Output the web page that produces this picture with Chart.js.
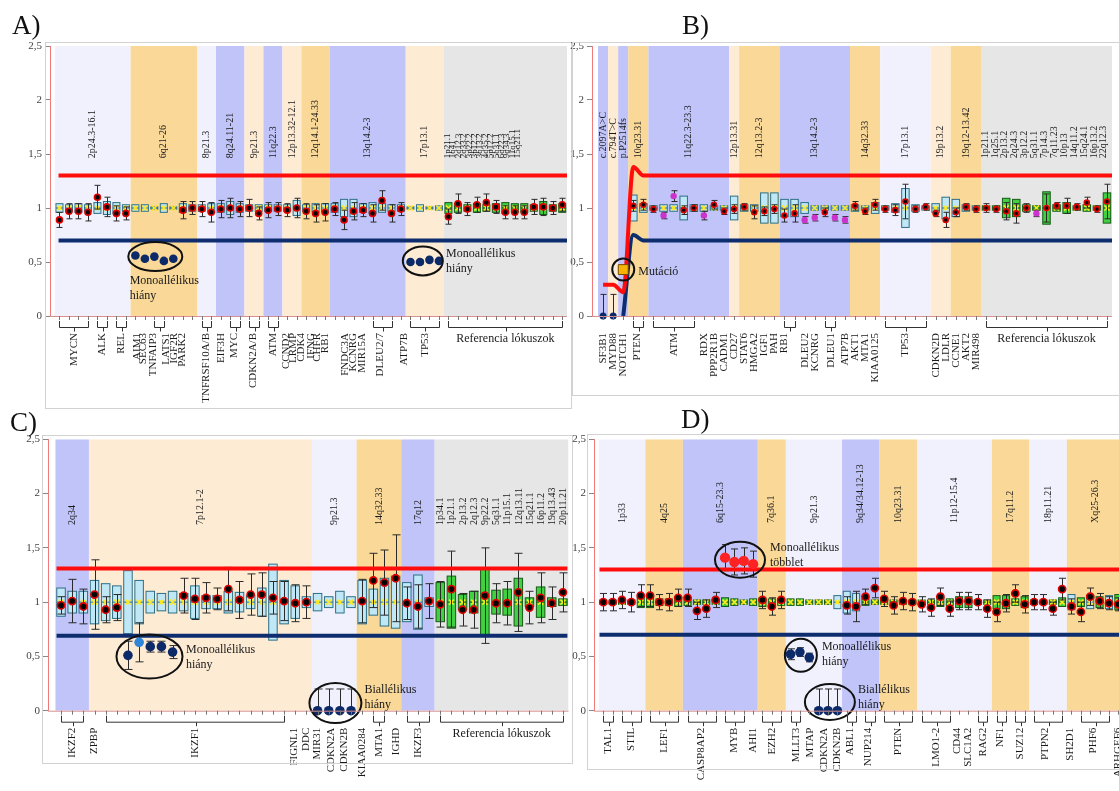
<!DOCTYPE html>
<html lang="hu">
<head>
<meta charset="utf-8">
<title>MLPA</title>
<script src="https://cdn.jsdelivr.net/npm/chart.js@4.4.1/dist/chart.umd.min.js"></script>
<style>
  html, body { margin: 0; padding: 0; background: #fff; }
  body { width: 1119px; height: 791px; position: relative; overflow: hidden; }
  canvas { position: absolute; }
</style>
</head>
<body>
<canvas id="chartA"></canvas>
<canvas id="chartB"></canvas>
<canvas id="chartC"></canvas>
<canvas id="chartD"></canvas>
<script>
// ---- A) panel ----
const aVal = [0.89, 0.97, 0.97, 0.96, 1.10, 1.01, 0.95, 0.95,
  0.56, 0.53, 0.55, 0.51, 0.53, 0.98, 1.00,
  0.99, 0.96, 0.99, 1.00, 0.99, 1.00, 0.95, 0.98, 0.99, 0.98, 1.00, 0.97, 0.95, 0.96,
  0.99, 0.89, 0.97, 0.98, 0.95, 1.07, 0.95, 0.99,
  0.50, 0.50, 0.52, 0.51,
  0.92, 1.04, 0.99, 1.03, 1.05, 1.01, 0.96, 0.96, 0.96, 1.01, 1.01, 1.00, 1.03];
const aKind = 'nnnnnnnn' + 'ddddd' + 'nnnnnnnnnnnnnnnnnnnnnnnn' + 'dddd' + 'nnnnnnnnnnnnn';
const aErr = [0.07, 0.07, 0.07, 0.08, 0.11, 0.09, 0.07, 0.06,
  0.02, 0.02, 0.02, 0.02, 0.02, 0.08, 0.06,
  0.07, 0.09, 0.08, 0.09, 0.07, 0.08, 0.06, 0.07, 0.06, 0.06, 0.09, 0.07, 0.08, 0.08,
  0.06, 0.09, 0.08, 0.06, 0.08, 0.09, 0.08, 0.06,
  0.02, 0.02, 0.02, 0.02,
  0.07, 0.09, 0.06, 0.07, 0.08, 0.06, 0.06, 0.06, 0.06, 0.07, 0.08, 0.06, 0.06];
const aBox = [0.04, 0.03, 0.04, 0.03, 0.05, 0.06, 0.05, 0.03,
  0.03, 0.03, 0.01, 0.04, 0.01, 0.04, 0.03,
  0.03, 0.04, 0.04, 0.06, 0.04, 0.03, 0.03, 0.03, 0.03, 0.03, 0.07, 0.03, 0.04, 0.04,
  0.04, 0.08, 0.08, 0.04, 0.05, 0.04, 0.03, 0.03,
  0.01, 0.03, 0.01, 0.02,
  0.05, 0.04, 0.03, 0.04, 0.03, 0.04, 0.05, 0.04, 0.04, 0.03, 0.06, 0.03, 0.04];
const aBoxKind = 'bbbbbbbbbbbbbbbbbbbbbbbbbbbbbbbbbbbbbbbbb' + 'ggggggggggggg';
const aBandFrom = [0, 8, 15, 17, 20, 22, 24, 26, 29, 37, 41];
const aBandTo = [7, 14, 16, 19, 21, 23, 25, 28, 36, 40, 53];
const aBandKind = ['L', 'O', 'L', 'B', 'P', 'B', 'P', 'O', 'B', 'P', 'G'];
const aBandName = ['2p24.3-16.1', '6q21-26', '8p21.3', '8q24.11-21', '9p21.3', '11q22.3',
  '12p13.32-12.1', '12q14.1-24.33', '13q14.2-3', '17p13.1', ''];
const aRefBands = ['1p21.1', '1q41', '2q12.3', '2q33.2', '3p22.2', '3p12.2', '3q13.2', '4q35.2',
  '5p12.2', '5q31.1', '6q22.3', '9q34.3', '11q15.1', '15q21.1'];
const aGenes = ['MYCN', 'ALK', 'REL', 'AIM1', 'SEC63', 'TNFAIP3', 'LATS1', 'IGF2R', 'PARK2',
  'TNFRSF10A/B', 'EIF3H', 'MYC', 'CDKN2A/B', 'ATM', 'CCND2', 'LRMP', 'CDK4', 'IFNG', 'CHFR', 'RB1',
  'FNDC3A', 'KCNRG', 'MIR15A', 'DLEU2/7', 'ATP7B', 'TP53'];
const aGeneAt = [1.5, 4.5, 6.5, 8.2, 8.8, 9.9, 11.2, 12.1, 12.9, 15.5, 17, 18.4, 20.4, 22.5,
  23.9, 24.6, 25.5, 26.5, 27.2, 28, 30.1, 31, 31.9, 33.8, 36.3, 38.5];
const aBrackets = [[0, 3], [4, 5], [6, 7], [10, 11], [15, 16], [18, 19], [20, 21], [22, 23], [33, 35], [37, 40], [41, 53]];
const aHiX = [-0.1, 53.5], aHi = [1.3, 1.3];
const aLoX = [-0.1, 53.5], aLo = [0.7, 0.7];

// ---- B) panel ----
const bVal = [0, 0, 0.43, 1.02, 1.03,
  0.99, 0.93, 1.11, 0.98, 1.00, 0.93, 1.03, 0.97, 0.99,
  1.01, 0.96, 0.97, 0.99,
  0.93, 0.95, 0.89, 0.91, 0.96, 0.91, 0.89,
  1.02, 0.97, 1.03, 0.99, 0.98, 1.06, 0.99, 1.01,
  0.95, 0.89, 0.96, 1.01, 0.99,
  1.00, 0.99, 0.97, 0.95, 1.00, 0.95, 1.00, 1.02, 1.02, 1.01, 1.05, 0.99, 1.06];
const bKind = 'ddu' + 'nn' + 'nmmnnmnn' + 'n' + 'nnnn' + 'nnmmnmm' + 'nnn' + 'nnnnn' + 'nn' + 'nnn' + 'nnnnnmnnnnnnn';
const bErr = [0.2, 0.2, 0, 0.05, 0.05,
  0.03, 0.03, 0.05, 0.04, 0.03, 0.04, 0.04, 0.03, 0.04,
  0.03, 0.06, 0.04, 0.04,
  0.06, 0.08, 0.03, 0.03, 0.04, 0.03, 0.03,
  0.04, 0.03, 0.05, 0.03, 0.05, 0.16, 0.03, 0.03,
  0.03, 0.07, 0.04, 0.03, 0.03,
  0.04, 0.03, 0.08, 0.09, 0.04, 0.03, 0.13, 0.03, 0.07, 0.03, 0.05, 0.03, 0.16];
const bBox = [0, 0, 0, 0.12, 0.04,
  0.02, 0.03, 0.03, 0.11, 0.03, 0.03, 0.02, 0.02, 0.11,
  0.03, 0.03, 0.14, 0.14,
  0.08, 0.08, 0.05, 0.02, 0.02, 0.02, 0.02,
  0.03, 0.02, 0.05, 0.02, 0.04, 0.18, 0.03, 0.02,
  0.04, 0.10, 0.08, 0.03, 0.02,
  0.02, 0.02, 0.09, 0.08, 0.03, 0.02, 0.15, 0.03, 0.05, 0.02, 0.03, 0.02, 0.14];
const bBoxKind = 'bbbbbbbbbbbbbbbbbbbbbbbbbbbbbbbbbbbbbb' + 'ggggggggggggg';
const bBandFrom = [0, 1, 2, 3, 5, 13, 14, 18, 25, 28, 33, 35, 38];
const bBandTo = [0, 1, 2, 4, 12, 13, 17, 24, 27, 32, 34, 37, 50];
const bBandKind = ['B', 'P', 'B', 'O', 'B', 'P', 'O', 'B', 'O', 'L', 'P', 'O', 'G'];
const bBandName = ['c.2097A>C', 'c.794T>C', 'p.P2514fs', '10q23.31', '11q22.3-23.3', '12p13.31',
  '12q13.2-3', '13q14.2-3', '14q32.33', '17p13.1', '19p13.2', '19q12-13.42', ''];
const bRefBands = ['1p21.1', '1q25.1', '2p13.2', '2q24.3', '3p12.2', '5q31.1', '7p14.3', '7q11.23',
  '10p13', '14q11.2', '15q24.1', '16p13.2', '22q12.3'];
const bGenes = ['SF3B1', 'MYD88', 'NOTCH1', 'PTEN', 'ATM', 'RDX', 'PPP2R1B', 'CADM1', 'CD27', 'STAT6',
  'HMGA2', 'IGF1', 'PAH', 'RB1', 'DLEU2', 'KCNRG', 'DLEU1', 'ATP7B', 'AKT1', 'MTA1', 'KIAA0125',
  'TP53', 'CDKN2D', 'LDLR', 'CCNE1', 'AKT2', 'MIR498'];
const bGeneAt = [0, 1, 2, 3.4, 7, 10, 11, 12, 13, 14, 15, 16, 17, 18, 20, 21, 22.6, 24, 25, 26, 27,
  30, 33, 34, 35, 36, 37];
const bBrackets = [[3, 4], [5, 9], [18, 19], [22, 23], [28, 32], [38, 50]];
const bHiX = [0, 1, 2, 3, 4, 50.6], bHi = [0.29, 0.29, 0.22, 1.38, 1.30, 1.30];
const bLoX = [2, 3, 4, 50.6], bLo = [0, 0.75, 0.70, 0.70];

// ---- C) panel ----
const cVal = [0.97, 1.01, 0.96,
  1.07, 0.93, 0.95, 0.51, 0.63, 0.59, 0.59, 0.54, 1.06, 1.03, 1.04, 1.03, 1.12, 1.02, 1.07, 1.07, 1.04, 1.01, 0.99, 1.00,
  0, 0, 0, 0,
  1.01, 1.20, 1.18, 1.22,
  0.99, 0.96, 1.01,
  0.98, 1.12, 0.93, 0.93, 1.06, 0.99, 0.99, 1.09, 0.95, 1.04, 0.99, 1.09];
const cKind = 'nnn' + 'nnndlddd' + 'nnnnnnnnnnnn' + 'dddd' + 'nnnn' + 'nnn' + 'nnnnnnnnnnnn';
const cErr = [0.08, 0.2, 0.16,
  0.32, 0.12, 0.12, 0.13, 0.18, 0.05, 0.05, 0.06, 0.16, 0.19, 0.14, 0.1, 0.2, 0.17, 0.19, 0.2, 0.15, 0.18, 0.17, 0.15,
  0.2, 0.2, 0.2, 0.2,
  0.2, 0.25, 0.3, 0.4,
  0.15, 0.2, 0.16,
  0.21, 0.35, 0.15, 0.17, 0.44, 0.18, 0.2, 0.36, 0.15, 0.23, 0.15, 0.18];
const cBox = [0.13, 0.1, 0.1,
  0.2, 0.17, 0.15, 0.29, 0.2, 0.1, 0.08, 0.1, 0.08, 0.15, 0.06, 0.06, 0.1, 0.09, 0.06, 0.13, 0.35, 0.2, 0.15, 0.05,
  0.08, 0.05, 0.1, 0.05,
  0.2, 0.12, 0.22, 0.24,
  0.18, 0.25, 0.04,
  0.18, 0.24, 0.07, 0.1, 0.31, 0.11, 0.12, 0.22, 0.04, 0.14, 0.04, 0.03];
const cBoxKind = 'bbbbbbbbbbbbbbbbbbbbbbbbbbbbbbbbbb' + 'gggggggggggg';
const cBandFrom = [0, 3, 23, 27, 31, 34];
const cBandTo = [2, 22, 26, 30, 33, 45];
const cBandKind = ['B', 'P', 'L', 'O', 'B', 'G'];
const cBandName = ['2q34', '7p12.1-2', '9p21.3', '14q32.33', '17q12', ''];
const cRefBands = ['1p34.1', '1p21.1', '2p13.2', '2q12.3', '9p22.2', '5q31.1', '11p15.1', '12q13.11',
  '15q21.1', '16p11.2', '19q13.43', '20p11.21'];
const cGenes = ['IKZF2', 'ZPBP', 'IKZF1', 'FIGNL1', 'DDC', 'MIR31', 'CDKN2A', 'CDKN2B', 'KIAA0284',
  'MTA1', 'IGHD', 'IKZF3'];
const cGeneAt = [1, 3, 12, 20.9, 22, 23, 24.2, 25.4, 27, 28.5, 30, 32];
const cBrackets = [[0, 2], [4, 20], [28, 29], [31, 33], [34, 45]];
const cHiX = [-0.4, 45.4], cHi = [1.31, 1.31];
const cLoX = [-0.4, 45.4], cLo = [0.69, 0.69];

// ---- D) panel ----
const dVal = [1.00, 1.00, 1.02, 1.00, 1.06,
  1.06, 1.00, 1.00, 1.04,
  1.04, 0.92, 0.94, 1.02, 1.41, 1.37, 1.38, 1.35,
  1.02, 0.96, 1.02,
  0.52, 0.54, 0.49, 0, 0, 0,
  0.97, 0.96, 1.05, 1.13,
  1.03, 0.97, 1.01, 1.00,
  0.98, 0.95, 1.05, 0.94, 1.01, 1.01, 1.00, 0.94,
  0.91, 0.99, 1.08, 0.98,
  1.00, 1.00, 0.94, 1.12,
  0.96, 0.91, 1.05, 1.01, 0.99, 0.98];
const dKind = 'nnnnn' + 'nnnn' + 'nnnngggg' + 'nnn' + 'dddddd' + 'nnnn' + 'nnnn' + 'nnnnnnnn' + 'nnnn' + 'nnnn' + 'nnnnnn';
const dErr = [0.08, 0.08, 0.08, 0.09, 0.1,
  0.1, 0.07, 0.08, 0.08,
  0.08, 0.08, 0.08, 0.07, 0.12, 0.12, 0.12, 0.12,
  0.08, 0.08, 0.08,
  0.05, 0.04, 0.04, 0.2, 0.2, 0.2,
  0.08, 0.14, 0.07, 0.09,
  0.07, 0.08, 0.08, 0.08,
  0.07, 0.08, 0.08, 0.07, 0.08, 0.08, 0.07, 0.08,
  0.09, 0.08, 0.08, 0.08,
  0.07, 0.07, 0.06, 0.1,
  0.07, 0.09, 0.08, 0.07, 0.06, 0.06];
const dBox = [0.02, 0.02, 0.02, 0.02, 0.05,
  0.05, 0.03, 0.03, 0.04,
  0.03, 0.02, 0.02, 0.02, 0.04, 0.03, 0.02, 0.03,
  0.04, 0.03, 0.03,
  0.03, 0.03, 0.02, 0.02, 0.02, 0.06,
  0.1, 0.08, 0.03, 0.02,
  0.02, 0.02, 0.02, 0.02,
  0.02, 0.02, 0.04, 0.03, 0.05, 0.05, 0.02, 0.02,
  0.06, 0.06, 0.03, 0.05,
  0.02, 0.02, 0.02, 0.04,
  0.07, 0.04, 0.06, 0.05, 0.06, 0.07];
const dBoxKind = 'ggggg' + 'gggg' + 'gggggggg' + 'ggg' + 'gggggb' + 'bbgg' + 'gggg' + 'gggggggg' + 'gggg' + 'gggg' + 'bgbgbg';
const dBandFrom = [0, 5, 9, 17, 20, 26, 30, 34, 42, 46, 50];
const dBandTo = [4, 8, 16, 19, 25, 29, 33, 41, 45, 49, 55];
const dBandKind = ['L', 'O', 'B', 'O', 'L', 'B', 'O', 'L', 'O', 'L', 'O'];
const dBandName = ['1p33', '4q25', '6q15-23.3', '7q36.1', '9p21.3', '9q34/34.12-13', '10q23.31',
  '11p12-15.4', '17q11.2', '18p11.21', 'Xq25-26.3'];
const dGenes = ['TAL1', 'STIL', 'LEF1', 'CASP8AP2', 'MYB', 'AHI1', 'EZH2', 'MLLT3', 'MTAP', 'CDKN2A',
  'CDKN2B', 'ABL1', 'NUP214', 'PTEN', 'LMO1-2', 'CD44', 'SLC1A2', 'RAG2', 'NF1', 'SUZ12', 'PTPN2',
  'SH2D1', 'PHF6', 'ARHGEF6'];
const dGeneAt = [0.5, 3, 6.5, 10.5, 14, 16, 18, 20.6, 22.1, 23.6, 25, 26.4, 28.3, 31.5, 35.5, 37.8,
  39, 40.6, 42.4, 44.5, 47.2, 49.9, 52.3, 55];
const dBrackets = [[0, 1], [2, 4], [5, 8], [9, 12], [13, 15], [17, 19], [20, 21], [26, 27], [28, 29],
  [30, 33], [34, 37], [40, 41], [42, 43], [44, 45], [46, 49], [51, 54]];
const dHiX = [-0.4, 55.5], dHi = [1.3, 1.3];
const dLoX = [-0.4, 55.5], dLo = [0.7, 0.7];

// ---- styles ----
const SERIF = '"Liberation Serif", "Times New Roman", serif';
const BAND_FILL = { L: '#f1f1fd', B: '#c0c4f8', O: '#f9d898', P: '#fdebd4', G: '#e6e6e6' };
const BOX_FILL = { b: '#bfe7f5', g: '#41d041' };
const BOX_LINE = { b: '#2d6f86', g: '#165a16' };
const POINT_FILL = { n: '#050505', d: '#0c2a68', l: '#2f86d8', g: '#ff2222', m: '#cc33cc', u: '#f6b400' };
const POINT_LINE = { n: '#e00000', d: '#0c2a68', l: '#2f86d8', g: '#ff2222', m: '#cc33cc', u: '#7a4a00' };

function vtext(ctx, s, x, y) {
  ctx.save();
  ctx.translate(x, y);
  ctx.rotate(-Math.PI / 2);
  ctx.fillText(s, 0, 0);
  ctx.restore();
}

function pairs(xs, ys) {
  return ys.map((y, i) => ({ x: xs[i], y: y }));
}

function panelPlugin(p) {
  return {
    id: 'panel',
    beforeDatasetsDraw(chart) {
      const { ctx, chartArea: a } = chart;
      const px = v => chart.scales.x.getPixelForValue(v);
      const py = v => chart.scales.y.getPixelForValue(v);
      ctx.save();
      ctx.beginPath();
      ctx.rect(a.left, a.top, a.right - a.left, a.bottom - a.top);
      ctx.clip();

      // kromoszóma sávok
      p.bandFrom.forEach((f, k) => {
        const x0 = px(f - 0.5), x1 = px(p.bandTo[k] + 0.5);
        ctx.fillStyle = BAND_FILL[p.bandKind[k]];
        ctx.fillRect(x0, a.top, x1 - x0, a.bottom - a.top);
        ctx.fillStyle = '#1a1a1a';
        ctx.textAlign = 'left';
        ctx.textBaseline = 'middle';
        if (p.bandName[k]) {
          ctx.font = p.bandFont + 'px ' + SERIF;
          vtext(ctx, p.bandName[k], (x0 + x1) / 2, py(p.labelBase));
        } else {
          ctx.font = p.refFont + 'px ' + SERIF;
          p.refBands.forEach((s, j) => vtext(ctx, s, x0 + p.refOffset + j * p.refStep, py(p.labelBase)));
        }
      });

      // referencia dobozok
      const w = p.boxW;
      p.box.forEach((h, i) => {
        if (!h) return;
        const x = px(i), y0 = py(1 + h), y1 = py(1 - h), ym = py(1);
        const k = p.boxKind[i];
        ctx.fillStyle = BOX_FILL[k];
        ctx.fillRect(x - w / 2, y0, w, y1 - y0);
        ctx.strokeStyle = BOX_LINE[k];
        ctx.lineWidth = 1;
        ctx.strokeRect(x - w / 2, y0, w, y1 - y0);
        ctx.beginPath();
        ctx.moveTo(x - w / 2, ym);
        ctx.lineTo(x + w / 2, ym);
        ctx.stroke();
        ctx.strokeStyle = '#ffe81a';
        ctx.lineWidth = 1.5;
        ctx.beginPath();
        ctx.moveTo(x - 2.5, ym - 2.5); ctx.lineTo(x + 2.5, ym + 2.5);
        ctx.moveTo(x + 2.5, ym - 2.5); ctx.lineTo(x - 2.5, ym + 2.5);
        ctx.stroke();
      });

      // hibasávok
      ctx.strokeStyle = '#2a2a2a';
      ctx.lineWidth = 1;
      const c = p.cap / 2;
      p.vals.forEach((v, i) => {
        const e = p.err[i];
        if (v === null || !e) return;
        const x = Math.round(px(i)) + 0.5, y0 = py(v - e), y1 = py(v + e);
        ctx.beginPath();
        ctx.moveTo(x, y0); ctx.lineTo(x, y1);
        ctx.moveTo(x - c, y0); ctx.lineTo(x + c, y0);
        ctx.moveTo(x - c, y1); ctx.lineTo(x + c, y1);
        ctx.stroke();
      });
      ctx.restore();
    },
    afterDatasetsDraw(chart) {
      const ctx = chart.ctx;
      const px = v => chart.scales.x.getPixelForValue(v);
      const py = v => chart.scales.y.getPixelForValue(v);
      ctx.save();
      ctx.strokeStyle = '#111';
      ctx.lineWidth = 2;
      ctx.fillStyle = '#1a1a1a';
      ctx.font = '12px ' + SERIF;
      ctx.textAlign = 'left';
      ctx.textBaseline = 'middle';
      p.notes.forEach(n => {
        ctx.beginPath();
        ctx.ellipse(px(n.cx), py(n.cy), n.rx, n.ry, 0, 0, Math.PI * 2);
        ctx.stroke();
        n.lines.forEach((s, j) => ctx.fillText(s, px(n.tx), py(n.ty) + j * 15));
      });
      ctx.restore();
    },
    afterDraw(chart) {
      const { ctx, chartArea: a } = chart;
      const px = v => chart.scales.x.getPixelForValue(v);
      ctx.save();
      // x tengely
      ctx.strokeStyle = '#d99090';
      ctx.lineWidth = 1;
      ctx.beginPath();
      ctx.moveTo(a.left, a.bottom + 0.5);
      ctx.lineTo(a.right, a.bottom + 0.5);
      ctx.stroke();
      ctx.strokeStyle = '#777';
      ctx.beginPath();
      p.vals.forEach((v, i) => {
        const x = Math.round(px(i)) + 0.5;
        ctx.moveTo(x, a.bottom);
        ctx.lineTo(x, a.bottom + 4);
      });
      ctx.stroke();
      // zárójelek a gének alatt
      ctx.strokeStyle = '#333';
      p.brackets.forEach(([f, t]) => {
        const x0 = Math.round(px(f)) + 0.5, x1 = Math.round(px(t)) + 0.5, xm = Math.round((x0 + x1) / 2) + 0.5;
        const yb = a.bottom + 11.5;
        ctx.beginPath();
        ctx.moveTo(x0, a.bottom + 5); ctx.lineTo(x0, yb); ctx.lineTo(x1, yb); ctx.lineTo(x1, a.bottom + 5);
        ctx.moveTo(xm, yb); ctx.lineTo(xm, yb + 4);
        ctx.stroke();
      });
      ctx.fillStyle = '#1a1a1a';
      ctx.font = '11px ' + SERIF;
      ctx.textAlign = 'right';
      ctx.textBaseline = 'middle';
      p.genes.forEach((g, i) => vtext(ctx, g, px(p.geneAt[i]), a.bottom + 17));
      const gi = p.bandKind.indexOf('G');
      if (gi >= 0) {
        ctx.font = '12px ' + SERIF;
        ctx.textAlign = 'center';
        ctx.fillText('Referencia lókuszok', px((p.bandFrom[gi] + p.bandTo[gi]) / 2), a.bottom + 23);
      }
      // keret és betűjel
      ctx.translate(-p.left, -p.top);
      const f = p.frame;
      ctx.strokeStyle = '#d2d2d2';
      ctx.strokeRect(f[0] + 0.5, f[1] + 0.5, f[2] - f[0], f[3] - f[1]);
      ctx.fillStyle = '#111';
      ctx.font = '27px ' + SERIF;
      ctx.textAlign = 'left';
      ctx.textBaseline = 'alphabetic';
      ctx.fillText(p.letter, p.letterXY[0], p.letterXY[1]);
      ctx.restore();
    }
  };
}

function makeChart(id, p) {
  const cv = document.getElementById(id);
  cv.width = p.w;
  cv.height = p.h;
  cv.style.left = p.left + 'px';
  cv.style.top = p.top + 'px';
  cv.style.width = p.w + 'px';
  cv.style.height = p.h + 'px';
  const pts = [];
  p.vals.forEach((v, i) => { if (v !== null) pts.push({ x: i, y: v, k: p.kinds[i] }); });
  return new Chart(cv, {
    type: 'scatter',
    data: {
      datasets: [
        {
          data: pts,
          order: 0,
          clip: 10,
          pointStyle: c => (c.raw && c.raw.k === 'u') ? 'rect' : 'circle',
          pointRadius: c => c.raw ? p.radius[c.raw.k] : 3,
          pointBackgroundColor: c => c.raw ? POINT_FILL[c.raw.k] : '#000',
          pointBorderColor: c => c.raw ? POINT_LINE[c.raw.k] : '#000',
          pointBorderWidth: c => !c.raw ? 0 : (c.raw.k === 'n' ? 1.6 : (c.raw.k === 'u' ? 1 : 0))
        },
        {
          type: 'line', data: p.hi, order: 1, borderColor: '#ff0d0d', borderWidth: 4,
          pointRadius: 0, cubicInterpolationMode: 'monotone'
        },
        {
          type: 'line', data: p.lo, order: 1, borderColor: '#0d2d6e', borderWidth: 4,
          pointRadius: 0, cubicInterpolationMode: 'monotone'
        }
      ]
    },
    options: {
      responsive: false,
      animation: false,
      events: [],
      layout: { padding: p.pad },
      plugins: { legend: { display: false }, tooltip: { enabled: false } },
      scales: {
        x: { type: 'linear', min: p.xMin, max: p.xMax, display: false },
        y: {
          min: 0, max: 2.5,
          ticks: {
            stepSize: 0.5,
            padding: 3,
            color: '#444',
            font: { family: SERIF, size: 11 },
            callback: v => String(v).replace('.', ',')
          },
          grid: { drawOnChartArea: false, tickLength: 5, color: '#888' },
          border: { color: '#f07a7a', width: 1 },
          afterFit: s => { s.width = p.axisW; }
        }
      }
    },
    plugins: [panelPlugin(p)]
  });
}

makeChart('chartA', {
  letter: 'A)', letterXY: [12, 34], frame: [45, 42, 571, 408],
  left: 0, top: 0, w: 575, h: 415, pad: { left: 0, top: 46, right: 8, bottom: 99 },
  axisW: 50, xMin: -1, xMax: 53.5,
  vals: aVal, kinds: aKind, err: aErr, box: aBox, boxKind: aBoxKind,
  bandFrom: aBandFrom, bandTo: aBandTo, bandKind: aBandKind, bandName: aBandName,
  refBands: aRefBands, refOffset: 4, refStep: 5.4, refFont: 9, bandFont: 10, labelBase: 1.46,
  genes: aGenes, geneAt: aGeneAt, brackets: aBrackets,
  hi: pairs(aHiX, aHi), lo: pairs(aLoX, aLo),
  radius: { n: 3, d: 4.3, l: 4.3, g: 4.5, m: 3, u: 6 }, boxW: 7, cap: 6,
  notes: [
    { cx: 10.1, cy: 0.55, rx: 27, ry: 14.5, tx: 7.4, ty: 0.33, lines: ['Monoallélikus', 'hiány'] },
    { cx: 38.3, cy: 0.51, rx: 20, ry: 14.5, tx: 40.75, ty: 0.574, lines: ['Monoallélikus', 'hiány'] }
  ]
});

makeChart('chartB', {
  letter: 'B)', letterXY: [682, 34], frame: [572, 42, 1125, 395],
  left: 560, top: 0, w: 560, h: 415, pad: { left: 0, top: 46, right: 7, bottom: 99 },
  axisW: 32, xMin: -1.1, xMax: 50.5,
  vals: bVal, kinds: bKind, err: bErr, box: bBox, boxKind: bBoxKind,
  bandFrom: bBandFrom, bandTo: bBandTo, bandKind: bBandKind, bandName: bBandName,
  refBands: bRefBands, refOffset: 4, refStep: 9.9, refFont: 10, bandFont: 10, labelBase: 1.46,
  genes: bGenes, geneAt: bGeneAt, brackets: bBrackets,
  hi: pairs(bHiX, bHi), lo: pairs(bLoX, bLo),
  radius: { n: 2.5, d: 3.5, l: 3.5, g: 4, m: 3.2, u: 7 }, boxW: 7.5, cap: 6,
  notes: [
    { cx: 2, cy: 0.43, rx: 11, ry: 11, tx: 3.5, ty: 0.41, lines: ['Mutáció'] }
  ]
});

makeChart('chartC', {
  letter: 'C)', letterXY: [10, 431], frame: [42, 435, 572, 763],
  left: 0, top: 400, w: 575, h: 391, pad: { left: 0, top: 39.3, right: 6.5, bottom: 80.3 },
  axisW: 48, xMin: -1.17, xMax: 45.5,
  vals: cVal, kinds: cKind, err: cErr, box: cBox, boxKind: cBoxKind,
  bandFrom: cBandFrom, bandTo: cBandTo, bandKind: cBandKind, bandName: cBandName,
  refBands: cRefBands, refOffset: 6, refStep: 11.2, refFont: 10, bandFont: 10, labelBase: 1.71,
  genes: cGenes, geneAt: cGeneAt, brackets: cBrackets,
  hi: pairs(cHiX, cHi), lo: pairs(cLoX, cLo),
  radius: { n: 3.6, d: 4.8, l: 4.8, g: 5, m: 3, u: 6 }, boxW: 8.5, cap: 8,
  notes: [
    { cx: 7.93, cy: 0.5, rx: 33, ry: 22, tx: 11.2, ty: 0.56, lines: ['Monoallélikus', 'hiány'] },
    { cx: 24.6, cy: 0.07, rx: 26, ry: 20, tx: 27.2, ty: 0.19, lines: ['Biallélikus', 'hiány'] }
  ]
});

makeChart('chartD', {
  letter: 'D)', letterXY: [681, 428], frame: [587, 434, 1130, 769],
  left: 560, top: 400, w: 580, h: 391, pad: { left: 0, top: 39.3, right: 17, bottom: 80.3 },
  axisW: 34, xMin: -0.99, xMax: 55.5,
  vals: dVal, kinds: dKind, err: dErr, box: dBox, boxKind: dBoxKind,
  bandFrom: dBandFrom, bandTo: dBandTo, bandKind: dBandKind, bandName: dBandName,
  refBands: [], refOffset: 4, refStep: 10, refFont: 10, bandFont: 10, labelBase: 1.73,
  genes: dGenes, geneAt: dGeneAt, brackets: dBrackets,
  hi: pairs(dHiX, dHi), lo: pairs(dLoX, dLo),
  radius: { n: 3.6, d: 4.8, l: 4.8, g: 5.2, m: 3, u: 6 }, boxW: 7, cap: 7,
  notes: [
    { cx: 14.6, cy: 1.39, rx: 25, ry: 18, tx: 17.8, ty: 1.50, lines: ['Monoallélikus', 'többlet'] },
    { cx: 21.1, cy: 0.51, rx: 16, ry: 16.5, tx: 23.35, ty: 0.587, lines: ['Monoallélikus', 'hiány'] },
    { cx: 24.2, cy: 0.08, rx: 25, ry: 18, tx: 27.2, ty: 0.19, lines: ['Biallélikus', 'hiány'] }
  ]
});
</script>
</body>
</html>
